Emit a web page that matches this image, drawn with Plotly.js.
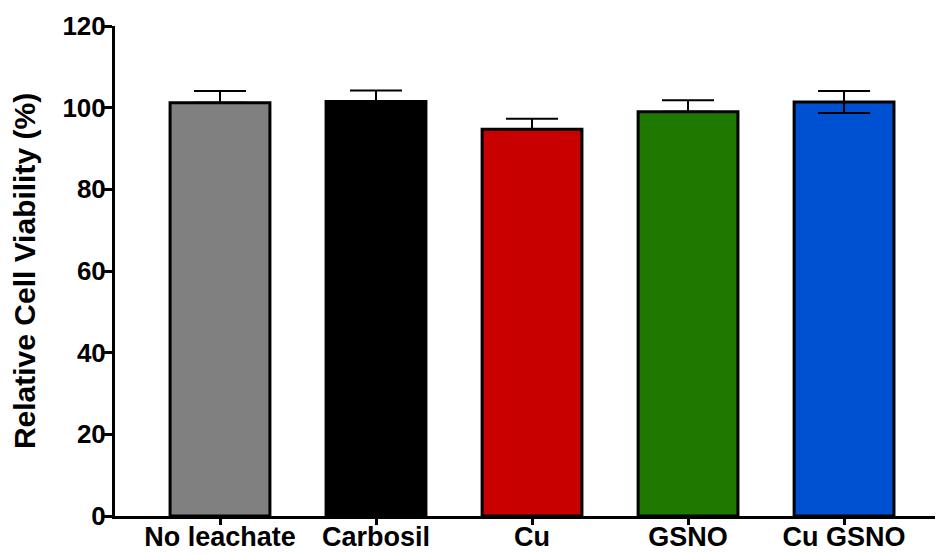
<!DOCTYPE html>
<html>
<head>
<meta charset="utf-8">
<script src="https://cdn.plot.ly/plotly-3.0.1.min.js"></script>
<style>
  html, body { margin: 0; padding: 0; background: #fff; }
  #chart { width: 940px; height: 554px; }
</style>
</head>
<body>
<div id="chart"></div>
<script>
// Relative cell viability for each leachate group (mean ± SD)
const groups = ['No leachate', 'Carbosil', 'Cu', 'GSNO', 'Cu GSNO'];
const viability = [101.2, 101.5, 94.7, 99.0, 101.4];
const errUp = [2.9, 2.7, 2.6, 2.8, 2.7];
const errDown = [0, 0, 0, 0, 2.7];
const barColors = ['#808080', '#000000', '#c80000', '#1f7800', '#0050d2'];
const yTicks = [0, 20, 40, 60, 80, 100, 120];

const boldFont = (size) => ({ family: 'Liberation Sans, Arial, sans-serif', size: size, color: '#000', weight: 'bold' });

const trace = {
  type: 'bar',
  x: groups.map((g, i) => i),
  y: viability,
  width: 0.64,
  marker: { color: barColors, line: { color: '#000', width: 3 } },
  error_y: {
    type: 'data',
    symmetric: false,
    array: errUp,
    arrayminus: errDown,
    color: '#000',
    thickness: 2,
    width: 26
  },
  hoverinfo: 'x+y'
};

const layout = {
  width: 940,
  height: 554,
  margin: { l: 115, r: 5, t: 26, b: 38 },
  paper_bgcolor: '#fff',
  plot_bgcolor: '#fff',
  showlegend: false,
  xaxis: {
    range: [-0.673, 4.583],
    tickvals: groups.map((g, i) => i),
    ticktext: groups,
    showline: true,
    linecolor: '#000',
    linewidth: 3,
    ticks: 'outside',
    ticklen: 6,
    tickwidth: 3,
    tickcolor: '#000',
    ticklabelstandoff: -11,
    showgrid: false,
    zeroline: false,
    tickfont: boldFont(27)
  },
  yaxis: {
    range: [0, 120],
    tickvals: yTicks,
    showline: true,
    linecolor: '#000',
    linewidth: 3,
    ticks: 'outside',
    ticklen: 8,
    tickwidth: 3,
    tickcolor: '#000',
    ticklabelstandoff: -7,
    showgrid: false,
    zeroline: false,
    tickfont: boldFont(26),
    title: { text: 'Relative Cell Viability (%)', font: boldFont(30), standoff: 18 }
  }
};

Plotly.newPlot('chart', [trace], layout, { displayModeBar: false, staticPlot: true });
</script>
</body>
</html>
